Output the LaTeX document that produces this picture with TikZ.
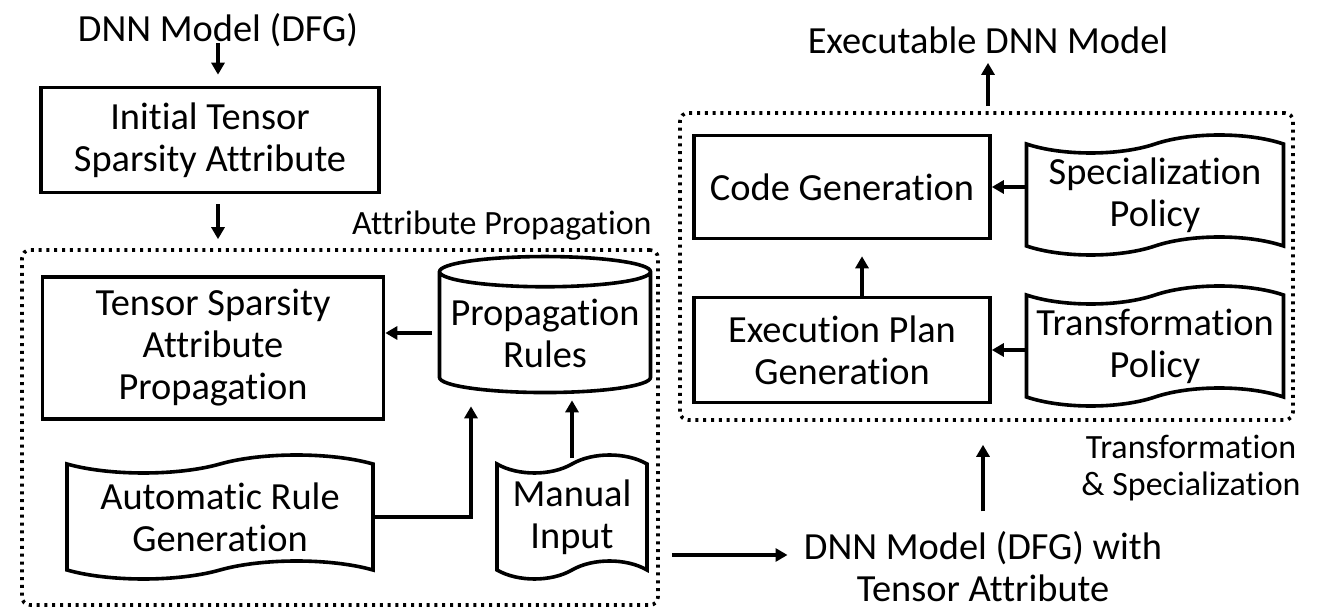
\documentclass[tikz,border=0pt]{standalone}
\usepackage{fontspec}
\setmainfont{Carlito}[RawFeature={-liga;-clig;-calt;-dlig;-ccmp}]
\usetikzlibrary{shapes.geometric,shapes.symbols,arrows.meta}

\tikzset{
  txt/.style={font=\fontsize{19.2pt}{21pt}\selectfont, align=center, inner sep=0pt},
  lbl/.style={txt, font=\fontsize{17pt}{18.5pt}\selectfont},
  blk/.style={txt, draw, line width=1.8pt},
  doc/.style={txt, draw, line width=1.8pt, tape, tape bend height=9pt},
  db/.style={txt, draw, line width=1.8pt, cylinder, shape border rotate=90, aspect=0.16},
  grp/.style={draw, line width=1.8pt, dash pattern=on 1.5pt off 2.4pt, rounded corners=4pt},
  arr/.style={-{Triangle[length=6pt,width=6.5pt]}, line width=1.75pt},
}

\begin{document}
\begin{tikzpicture}[x=0.5pt,y=-0.5pt]
\useasboundingbox (0,0) rectangle (1317,613);

% attribute propagation
\node[txt] (dnn) at (218,30) {DNN Model (DFG)};
\node[blk, minimum width=169pt, minimum height=52.5pt] (init) at (210,140) {Initial Tensor\\Sparsity Attribute};
\node[grp, minimum width=318pt, minimum height=177.5pt] (propfr) at (340,427.5) {};
\node[lbl, anchor=east] (proplbl) at (652,226) {Attribute Propagation};
\node[blk, minimum width=170.5pt, minimum height=71pt] (tsap) at (213,348) {Tensor Sparsity\\Attribute\\Propagation};
\node[db, minimum width=105.5pt, minimum height=68pt] (rules) at (545,333) {Propagation\\Rules};
\node[doc, minimum width=153pt, minimum height=62pt] (auto) at (220,517) {Automatic Rule\\Generation};
\node[doc, minimum width=75pt, minimum height=62pt] (manual) at (572,517) {Manual\\Input};

% transformation & specialization
\node[txt] (out) at (983,567) {DNN Model (DFG) with\\Tensor Attribute};
\node[grp, minimum width=306.5pt, minimum height=153.5pt] (transfr) at (986.5,266.5) {};
\node[lbl] (translbl) at (1191,468) {Transformation\\\& Specialization};
\node[blk, minimum width=148pt, minimum height=51.5pt] (code) at (842,187) {Code Generation};
\node[blk, minimum width=148pt, minimum height=52.5pt] (exec) at (842,350) {Execution Plan\\Generation};
\node[doc, minimum width=128.5pt, minimum height=60pt] (spec) at (1155,195) {Specialization\\Policy};
\node[doc, minimum width=128.5pt, minimum height=60pt] (trans) at (1155,346) {Transformation\\Policy};
\node[txt] (exe) at (988,40) {Executable DNN Model};

\draw[arr, shorten <=-2pt, shorten >=5.5pt] (dnn) -- (dnn |- init.north);
\draw[arr, shorten <=5pt, shorten >=4.5pt] (dnn |- init.south) -- (dnn |- propfr.north);
\draw[arr, shorten <=3pt] (rules.west) -- (rules.west -| tsap.east);
\draw[arr, shorten >=6pt] (auto.east) -| ([xshift=-37pt]rules.south);
\draw[arr, shorten <=2pt, shorten >=3pt] (manual.north) -- (manual.north |- rules.south);
\draw[arr] ([xshift=6pt,yshift=6pt]propfr.east |- out.west) -- ([xshift=-8pt,yshift=6pt]out.west);
\draw[arr, shorten <=10pt, shorten >=11.5pt] (out.north) -- (out.north |- transfr.south);
\draw[arr, shorten >=8pt] ([xshift=10pt]exec.north) -- ([xshift=10pt]code.south);
\draw[arr] (spec.west |- code.east) -- (code.east);
\draw[arr] (trans.west |- exec.east) -- (exec.east);
\draw[arr, shorten <=2.5pt, shorten >=4.5pt] (transfr.north -| exe) -- (exe.south);
\end{tikzpicture}
\end{document}
